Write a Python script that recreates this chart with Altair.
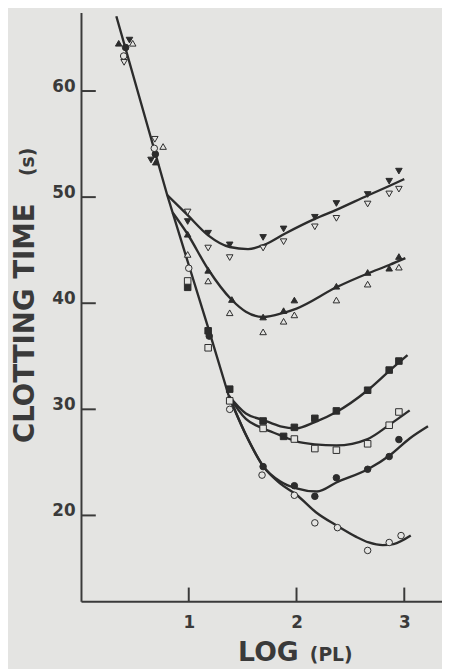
import altair as alt
import pandas as pd

BG = "#e4e4e2"
INK = "#2c2c2c"

# ---- fitted curves ----
STEM_X = [0.328, 0.80, 1.00, 1.18, 1.37]
STEM_Y = [67.05, 50.2, 43.6, 37.7, 31.3]

C1_X = [0.80, 0.99, 1.18, 1.38, 1.55, 1.70, 1.90, 2.17, 2.37, 2.66, 2.86, 3.00]
C1_Y = [50.2, 48.3, 46.4, 45.3, 45.1, 45.5, 46.6, 47.95, 48.8, 50.15, 51.05, 51.7]
C2_X = [0.85, 0.99, 1.18, 1.40, 1.53, 1.69, 1.88, 2.00, 2.37, 2.66, 2.86, 3.01]
C2_Y = [48.55, 46.5, 43.2, 40.3, 39.2, 38.7, 39.1, 39.5, 41.5, 42.8, 43.6, 44.25]
C3_X = [1.37, 1.53, 1.69, 1.85, 1.99, 2.17, 2.37, 2.66, 2.87, 3.03]
C3_Y = [31.3, 29.6, 29.0, 28.4, 28.2, 28.8, 29.75, 31.8, 33.7, 35.1]
C4_X = [1.37, 1.53, 1.69, 1.84, 1.99, 2.17, 2.37, 2.66, 2.87, 3.05]
C4_Y = [31.3, 29.1, 28.2, 27.6, 27.0, 26.7, 26.6, 27.2, 28.6, 29.9]
C5_X = [1.37, 1.53, 1.69, 1.85, 2.00, 2.19, 2.37, 2.67, 2.87, 3.05, 3.22]
C5_Y = [31.3, 27.6, 24.65, 23.2, 22.55, 22.25, 23.1, 24.4, 25.7, 27.25, 28.4]
C6_X = [1.37, 1.53, 1.69, 1.85, 2.00, 2.18, 2.38, 2.55, 2.67, 2.80, 2.90, 3.06]
C6_Y = [31.3, 27.6, 24.65, 23.0, 21.95, 20.3, 19.0, 18.0, 17.45, 17.2, 17.3, 18.1]

# ---- data points ----
TDF_X = [0.45, 0.65, 0.99, 1.18, 1.38, 1.69, 1.88, 2.17, 2.37, 2.66, 2.86, 2.95]   # filled down-triangle
TDF_Y = [64.8, 53.5, 47.7, 46.6, 45.5, 46.2, 47.0, 48.1, 49.4, 50.25, 51.5, 52.45]
TDO_X = [0.40, 0.685, 0.99, 1.18, 1.38, 1.69, 1.88, 2.17, 2.37, 2.66, 2.86, 2.95]  # open down-triangle
TDO_Y = [62.7, 55.45, 48.6, 45.2, 44.3, 45.2, 45.8, 47.2, 48.0, 49.35, 50.3, 50.75]
TUF_X = [0.35, 0.694, 0.99, 1.18, 1.40, 1.69, 1.88, 1.98, 2.37, 2.66, 2.86, 2.95]  # filled up-triangle
TUF_Y = [64.5, 53.3, 46.5, 43.1, 40.35, 38.7, 39.3, 40.3, 41.6, 42.9, 43.3, 44.4]
TUO_X = [0.48, 0.762, 0.99, 1.18, 1.38, 1.69, 1.88, 1.98, 2.37, 2.66, 2.95]        # open up-triangle
TUO_Y = [64.5, 54.77, 44.6, 42.1, 39.1, 37.3, 38.3, 38.9, 40.3, 41.8, 43.4]
SQF_X = [0.99, 1.18, 1.38, 1.69, 1.88, 1.98, 2.17, 2.37, 2.66, 2.86, 2.95]         # filled square
SQF_Y = [41.5, 37.4, 31.9, 28.9, 27.45, 28.3, 29.15, 29.85, 31.8, 33.7, 34.55]
SQO_X = [0.99, 1.18, 1.38, 1.69, 1.98, 2.17, 2.37, 2.66, 2.86, 2.95]               # open square
SQO_Y = [42.1, 35.8, 30.8, 28.2, 27.2, 26.3, 26.15, 26.75, 28.5, 29.75]
CIF_X = [0.414, 0.69, 1.19, 1.69, 1.98, 2.17, 2.37, 2.66, 2.86, 2.95]              # filled circle
CIF_Y = [64.1, 54.05, 36.9, 24.6, 22.8, 21.8, 23.55, 24.35, 25.55, 27.15]
CIO_X = [0.396, 0.68, 1.0, 1.38, 1.68, 1.98, 2.17, 2.38, 2.66, 2.86, 2.97]          # open circle
CIO_Y = [63.3, 54.6, 43.3, 30.0, 23.8, 21.9, 19.3, 18.85, 16.7, 17.45, 18.1]

Y_TICKS = [20, 30, 40, 50, 60]
X_TICKS = [1, 2, 3]

W, H = 366, 597
XD = [0, 3.35]
YD = [11.9, 67.4]
xs = alt.Scale(domain=XD, nice=False, zero=False)
ys = alt.Scale(domain=YD, nice=False, zero=False)

curves = []
for name, cx, cy in [("c1", C1_X, C1_Y), ("c2", C2_X, C2_Y), ("c3", C3_X, C3_Y),
                     ("c4", C4_X, C4_Y), ("c5", C5_X, C5_Y), ("c6", C6_X, C6_Y)]:
    for a, b in zip(cx, cy):
        curves.append({"x": a, "y": b, "c": name})
curve_df = pd.DataFrame(curves)
stem_df = pd.DataFrame({"x": STEM_X, "y": STEM_Y})

series = [("tdf", TDF_X, TDF_Y), ("tdo", TDO_X, TDO_Y), ("tuf", TUF_X, TUF_Y),
          ("tuo", TUO_X, TUO_Y), ("sqf", SQF_X, SQF_Y), ("sqo", SQO_X, SQO_Y),
          ("cif", CIF_X, CIF_Y), ("cio", CIO_X, CIO_Y)]
pts = []
for name, px, py in series:
    for a, b in zip(px, py):
        pts.append({"x": a, "y": b, "s": name})
pt_df = pd.DataFrame(pts)
keys = [s[0] for s in series]
shapes = ["triangle-down", "triangle-down", "triangle-up", "triangle-up",
          "square", "square", "circle", "circle"]
fills = [INK, BG, INK, BG, INK, BG, INK, BG]
sizes = [44, 44, 44, 44, 34, 34, 40, 50]

xenc = alt.X("x:Q", scale=xs,
             axis=alt.Axis(values=X_TICKS, ticks=False, grid=False, labelPadding=14,
                           labelFont="DejaVu Sans", labelFontWeight="bold", labelFontSize=17,
                           labelColor="#3a3a3a", domainColor="#3a3a3a", domainWidth=2,
                           format="d"),
             title=None)
yenc = alt.Y("y:Q", scale=ys,
             axis=alt.Axis(values=Y_TICKS, ticks=False, grid=False, labelPadding=6,
                           labelFont="DejaVu Sans", labelFontWeight="bold", labelFontSize=17,
                           labelColor="#3a3a3a", labelBaseline="alphabetic",
                           domainColor="#3a3a3a", domainWidth=2, format="d"),
             title=None)

stem = alt.Chart(stem_df).mark_line(color=INK, strokeWidth=2.4).encode(x=xenc, y=yenc)
lines = alt.Chart(curve_df).mark_line(color=INK, strokeWidth=2.4, interpolate="monotone").encode(
    x=alt.X("x:Q", scale=xs), y=alt.Y("y:Q", scale=ys), detail="c:N")

marks = alt.Chart(pt_df).mark_point(filled=True, stroke=INK, strokeWidth=1, opacity=1).encode(
    x=alt.X("x:Q", scale=xs), y=alt.Y("y:Q", scale=ys),
    shape=alt.Shape("s:N", scale=alt.Scale(domain=keys, range=shapes), legend=None),
    fill=alt.Fill("s:N", scale=alt.Scale(domain=keys, range=fills), legend=None),
    size=alt.Size("s:N", scale=alt.Scale(domain=keys, range=sizes), legend=None),
)

ytick = alt.Chart(pd.DataFrame({"y": Y_TICKS})).mark_rule(color="#3a3a3a", strokeWidth=2).encode(
    y=alt.Y("y:Q", scale=ys), x=alt.value(0), x2=alt.value(15))
xtick = alt.Chart(pd.DataFrame({"x": X_TICKS})).mark_rule(color="#3a3a3a", strokeWidth=2).encode(
    x=alt.X("x:Q", scale=xs), y=alt.value(H), y2=alt.value(H - 14))

def label(txt, x, y, size, angle=0, align="left"):
    return alt.Chart(pd.DataFrame({"t": [txt]})).mark_text(
        font="DejaVu Sans", fontWeight="bold", fontSize=size, color="#3a3a3a",
        angle=angle, align=align, baseline="alphabetic").encode(
        text="t:N", x=alt.value(x), y=alt.value(y))

titles = [
    label("LOG", 159.3, 657, 27),
    label("(PL)", 232, 657, 19),
    label("CLOTTING TIME", -47.4, 315, 28, angle=270, align="center"),
    label("(s)", -47.4, 151.5, 19, angle=270, align="center"),
]

chart = alt.layer(stem, lines, ytick, xtick, marks, *titles).properties(
    width=W, height=H, background=BG,
    autosize=alt.AutoSizeParams(type="none"),
    padding={"left": 74, "top": 0, "right": 0, "bottom": 64},
).configure_view(stroke=None)

chart.save("out.html", embed_options={"renderer": "svg", "actions": False})
